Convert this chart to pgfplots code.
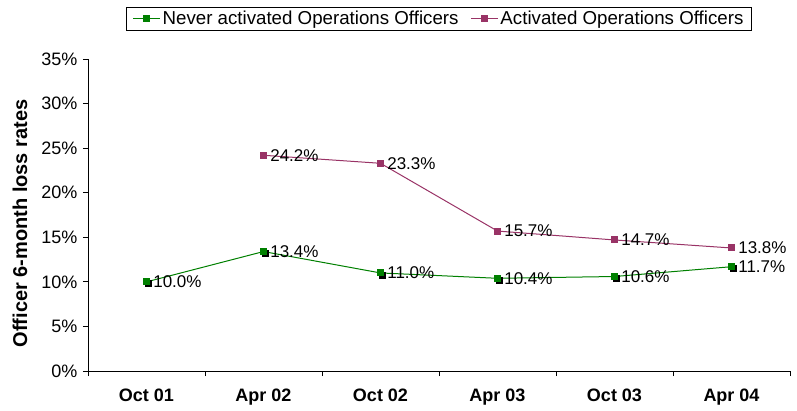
\documentclass[border=0pt]{standalone}
\usepackage{pgfplots}
\pgfplotsset{compat=1.18}
\usepackage{fontspec}
\setmainfont{Liberation Sans}
\definecolor{cgreen}{RGB}{0,128,0}
\definecolor{cplum}{RGB}{153,51,102}
\pgfplotsset{/pgf/number format/assume math mode=true}
\begin{document}
\begin{tikzpicture}[x=1bp,y=1bp]
\useasboundingbox (0,0) rectangle (797,410);
\begin{axis}[
  at={(88bp,39bp)}, anchor=south west,
  scale only axis, width=702bp, height=312bp,
  xmin=-0.5, xmax=5.5, ymin=0, ymax=35,
  axis x line*=bottom, axis y line*=left,
  axis line style={black, line width=0.8bp},
  xtick={0,...,5},
  xticklabels={Oct 01,Apr 02,Oct 02,Apr 03,Oct 03,Apr 04},
  x tick label style={font=\fontsize{18bp}{21bp}\selectfont\bfseries, yshift=-9bp},
  major x tick style={draw=none},
  minor xtick={-0.5,0.5,...,5.5},
  minor x tick style={black, line width=0.8bp},
  ytick={0,5,...,35},
  yticklabel={\pgfmathprintnumber{\tick}\%},
  y tick label style={font=\fontsize{18bp}{21bp}\selectfont, xshift=-2bp},
  y tick style={black, line width=0.8bp},
  tick align=outside, major tick length=5bp, minor tick length=5bp,
  ylabel={Officer 6-month loss rates},
  every axis y label/.style={at={([xshift=-68bp]rel axis cs:0,0.473)}, rotate=90, anchor=center,
    font=\fontsize{20bp}{23bp}\selectfont\bfseries},
  legend style={at={(0.5,1.13)}, anchor=center, draw=black, line width=0.8bp,
    font=\fontsize{18.7bp}{22bp}\selectfont, inner xsep=6bp, inner ysep=2bp,
    /tikz/every even column/.append style={column sep=10bp}},
  legend image code/.code={\draw[mark repeat=2,mark phase=2,#1] plot coordinates {(0bp,0bp)(13.5bp,0bp)(27bp,0bp)};},
  legend columns=2,
  nodes near coords={\pgfmathprintnumber[fixed,fixed zerofill,precision=1]{\pgfplotspointmeta}\%},
  nodes near coords align={anchor=west},
  every node near coord/.append style={font=\fontsize{17bp}{20bp}\selectfont, black, xshift=3bp},
]
\addplot[only marks, mark=square*, mark size=3bp, black, mark options={xshift=1.2bp, yshift=-1.8bp}, forget plot, nodes near coords={}]
  coordinates {(0,10.0) (1,13.4) (2,11.0) (3,10.4) (4,10.6) (5,11.7)};
\addplot[cgreen, line width=1bp, mark=square*, mark size=3bp, mark options={solid, fill=cgreen}]
  coordinates {(0,10.0) (1,13.4) (2,11.0) (3,10.4) (4,10.6) (5,11.7)};
\addlegendentry{Never activated Operations Officers}
\addplot[cplum, line width=1bp, mark=square*, mark size=3bp, mark options={solid, fill=cplum}]
  coordinates {(1,24.2) (2,23.3) (3,15.7) (4,14.7) (5,13.8)};
\addlegendentry{Activated Operations Officers}
\end{axis}
\end{tikzpicture}
\end{document}
